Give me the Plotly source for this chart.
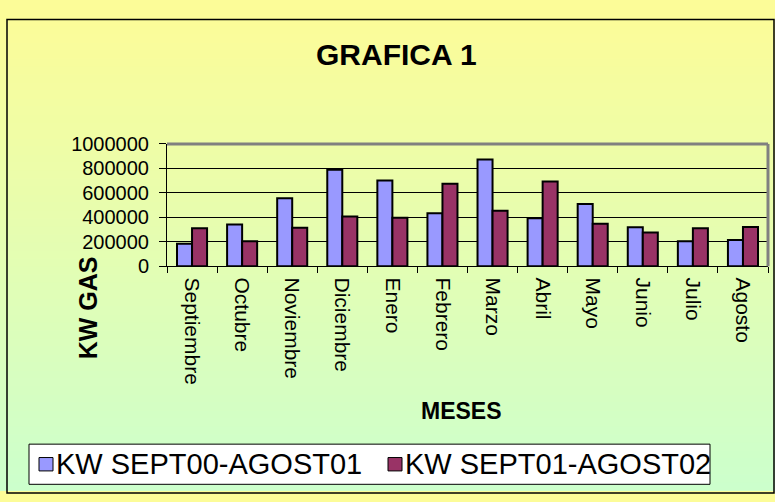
import plotly.graph_objects as go

# data
months = ["Septiembre", "Octubre", "Noviembre", "Diciembre", "Enero", "Febrero",
          "Marzo", "Abril", "Mayo", "Junio", "Julio", "Agosto"]
kw_00_01 = [185000, 342000, 556000, 789000, 702000, 433000,
            872000, 392000, 509000, 319000, 204000, 214000]
kw_01_02 = [311000, 204000, 316000, 407000, 397000, 674000,
            454000, 692000, 347000, 277000, 311000, 321000]
series_names = ["KW SEPT00-AGOST01", "KW SEPT01-AGOST02"]
series_colors = ["#9999FF", "#993366"]
y_ticks = [0, 200000, 400000, 600000, 800000, 1000000]

FONT = "Arial, Liberation Sans, sans-serif"
W, H = 775, 502


def px_x(x):
    return x / W


def px_y(y):
    return 1 - y / H


def label(text, x, y, size, **kw):
    return dict(text=text, x=px_x(x), y=px_y(y), xref="paper", yref="paper",
                xanchor=kw.pop("xanchor", "center"), yanchor="middle",
                showarrow=False, font=dict(size=size), **kw)


fig = go.Figure()
for name, vals, color in zip(series_names, [kw_00_01, kw_01_02], series_colors):
    fig.add_trace(go.Bar(x=months, y=vals, name=name,
                         marker=dict(color=color, line=dict(color="black", width=2))))

# background gradient (yellow -> light green) built from thin bands
shapes = []
n = 60
top, bottom = (252, 252, 152), (204, 255, 204)
for i in range(n):
    t = i / (n - 1)
    c = tuple(round(top[k] + (bottom[k] - top[k]) * t) for k in range(3))
    shapes.append(dict(type="rect", xref="paper", yref="paper", layer="below",
                       x0=0, x1=1, y0=1 - (i + 1) / n, y1=1 - i / n + 0.001,
                       fillcolor="rgb(%d,%d,%d)" % c, line=dict(width=0)))

# plot area frame (gray top/right like Excel)
x0, x1 = px_x(167), px_x(768)
y0, y1 = px_y(267), px_y(139)
shapes.append(dict(type="line", xref="paper", yref="paper", x0=x0, x1=x1, y0=y1, y1=y1,
                   line=dict(color="#808080", width=3)))
shapes.append(dict(type="line", xref="paper", yref="paper", x0=x1, x1=x1, y0=y0, y1=y1,
                   line=dict(color="#808080", width=3)))
# outer chart border (bottom edge falls just off the canvas)
shapes.append(dict(type="rect", xref="paper", yref="paper",
                   x0=px_x(7), x1=px_x(774), y0=px_y(504), y1=px_y(9),
                   line=dict(color="black", width=1.5)))

# hand-built legend box like the Excel one
shapes.append(dict(type="rect", xref="paper", yref="paper",
                   x0=px_x(29), x1=px_x(710), y0=px_y(495), y1=px_y(453),
                   fillcolor="white", line=dict(color="black", width=1)))
legend_sq = [39, 388]
legend_tx = [54, 403]
annotations = []
for sx, tx, name, color in zip(legend_sq, legend_tx, series_names, series_colors):
    shapes.append(dict(type="rect", xref="paper", yref="paper",
                       x0=px_x(sx), x1=px_x(sx + 14), y0=px_y(481), y1=px_y(467),
                       fillcolor=color, line=dict(color="black", width=1)))
    annotations.append(label(name, tx, 474, 29, xanchor="left"))

annotations += [
    label("<b>GRAFICA 1</b>", 397, 45, 30),
    label("<b>KW GAS</b>", 88, 311, 25, textangle=-90),
    label("<b>MESES</b>", 461, 418, 23),
]

fig.update_layout(
    width=W, height=H,
    margin=dict(l=0, r=0, t=0, b=0),
    paper_bgcolor="#FCFC98",
    plot_bgcolor="#C0C0C0",
    barmode="group", bargap=0.4, bargroupgap=0,
    font=dict(family=FONT, color="black", size=15),
    shapes=shapes,
    annotations=annotations,
    showlegend=False,
    xaxis=dict(domain=[x0, x1], tickson="boundaries", ticks="outside", ticklen=6,
               tickcolor="black", tickangle=90, showline=True, linecolor="black",
               linewidth=1, tickfont=dict(size=21), ticklabelstandoff=6, showgrid=False),
    yaxis=dict(domain=[y0, y1], range=[0, 1000000], tickvals=y_ticks,
               ticktext=[str(v) for v in y_ticks], ticks="outside", ticklen=7,
               tickcolor="black", showline=True, linecolor="black", linewidth=1,
               showgrid=True, gridcolor="black", gridwidth=1, zeroline=False,
               tickfont=dict(size=20), ticklabelstandoff=6),
)

# drop the default page margin so the chart sits at the window's top-left corner
fig.write_html("out.html", config={"displayModeBar": False},
               post_script="document.body.style.margin='0';"
               "document.body.style.overflow='hidden';")
